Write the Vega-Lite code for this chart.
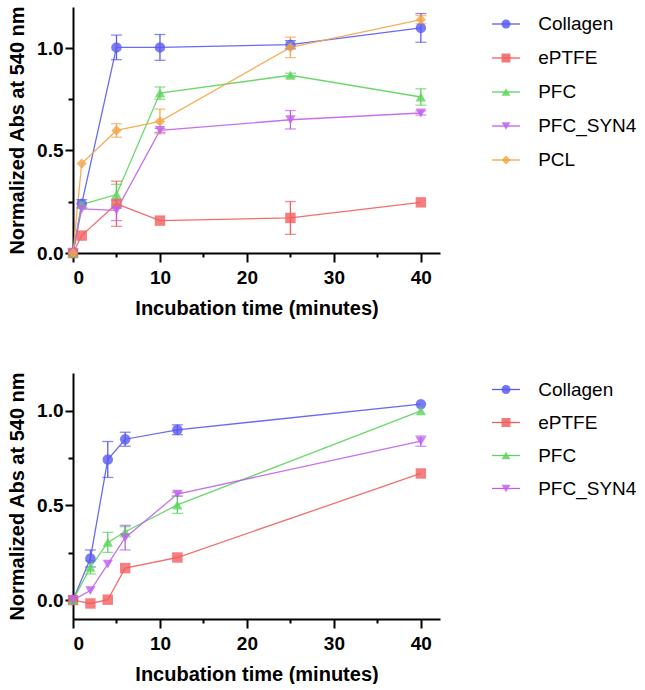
{
  "$schema": "https://vega.github.io/schema/vega-lite/v6.json",
  "padding": {"left": 7, "top": 5, "right": 0, "bottom": 0},
  "background": "white",
  "spacing": 53,
  "config": {
    "font": "Liberation Sans",
    "view": {"stroke": null},
    "axis": {"domainColor": "black", "domainWidth": 2, "tickColor": "black", "tickWidth": 2, "grid": false, "labelFont": "Liberation Sans", "labelFontWeight": "bold", "labelFontSize": 19, "labelColor": "black", "titleFont": "Liberation Sans", "titleFontWeight": "bold", "titleFontSize": 20, "titleColor": "black"}
  },
  "datasets": {
    "top": [
      {"series": "Collagen", "t": 0, "y": 0, "err": 0},
      {"series": "Collagen", "t": 1, "y": 0.24, "err": 0.02},
      {"series": "Collagen", "t": 5, "y": 1.003, "err": 0.06},
      {"series": "Collagen", "t": 10, "y": 1.003, "err": 0.063},
      {"series": "Collagen", "t": 25, "y": 1.016, "err": 0.02},
      {"series": "Collagen", "t": 40, "y": 1.098, "err": 0.07},
      {"series": "ePTFE", "t": 0, "y": 0, "err": 0},
      {"series": "ePTFE", "t": 1, "y": 0.085, "err": 0},
      {"series": "ePTFE", "t": 5, "y": 0.24, "err": 0.11},
      {"series": "ePTFE", "t": 10, "y": 0.158, "err": 0},
      {"series": "ePTFE", "t": 25, "y": 0.171, "err": 0.08},
      {"series": "ePTFE", "t": 40, "y": 0.247, "err": 0},
      {"series": "PFC", "t": 0, "y": 0, "err": 0},
      {"series": "PFC", "t": 1, "y": 0.236, "err": 0},
      {"series": "PFC", "t": 5, "y": 0.285, "err": 0.05},
      {"series": "PFC", "t": 10, "y": 0.78, "err": 0.03},
      {"series": "PFC", "t": 25, "y": 0.867, "err": 0.01},
      {"series": "PFC", "t": 40, "y": 0.761, "err": 0.04},
      {"series": "PFC_SYN4", "t": 0, "y": 0, "err": 0},
      {"series": "PFC_SYN4", "t": 1, "y": 0.215, "err": 0},
      {"series": "PFC_SYN4", "t": 5, "y": 0.208, "err": 0.05},
      {"series": "PFC_SYN4", "t": 10, "y": 0.598, "err": 0.01},
      {"series": "PFC_SYN4", "t": 25, "y": 0.65, "err": 0.045},
      {"series": "PFC_SYN4", "t": 40, "y": 0.683, "err": 0.01},
      {"series": "PCL", "t": 0, "y": 0, "err": 0},
      {"series": "PCL", "t": 1, "y": 0.436, "err": 0},
      {"series": "PCL", "t": 5, "y": 0.598, "err": 0.033},
      {"series": "PCL", "t": 10, "y": 0.642, "err": 0.06},
      {"series": "PCL", "t": 25, "y": 1.003, "err": 0.05},
      {"series": "PCL", "t": 40, "y": 1.138, "err": 0.02}
    ],
    "bottom": [
      {"series": "Collagen", "t": 0, "y": 0, "err": 0},
      {"series": "Collagen", "t": 2, "y": 0.22, "err": 0.045},
      {"series": "Collagen", "t": 4, "y": 0.743, "err": 0.095},
      {"series": "Collagen", "t": 6, "y": 0.85, "err": 0.037},
      {"series": "Collagen", "t": 12, "y": 0.9, "err": 0.026},
      {"series": "Collagen", "t": 40, "y": 1.035, "err": 0},
      {"series": "ePTFE", "t": 0, "y": 0, "err": 0},
      {"series": "ePTFE", "t": 2, "y": -0.018, "err": 0},
      {"series": "ePTFE", "t": 4, "y": 0.002, "err": 0},
      {"series": "ePTFE", "t": 6, "y": 0.169, "err": 0},
      {"series": "ePTFE", "t": 12, "y": 0.225, "err": 0},
      {"series": "ePTFE", "t": 40, "y": 0.669, "err": 0},
      {"series": "PFC", "t": 0, "y": 0, "err": 0},
      {"series": "PFC", "t": 2, "y": 0.173, "err": 0.035},
      {"series": "PFC", "t": 4, "y": 0.305, "err": 0.053},
      {"series": "PFC", "t": 6, "y": 0.361, "err": 0.027},
      {"series": "PFC", "t": 12, "y": 0.503, "err": 0.045},
      {"series": "PFC", "t": 40, "y": 1.0, "err": 0},
      {"series": "PFC_SYN4", "t": 0, "y": 0, "err": 0},
      {"series": "PFC_SYN4", "t": 2, "y": 0.05, "err": 0},
      {"series": "PFC_SYN4", "t": 4, "y": 0.19, "err": 0},
      {"series": "PFC_SYN4", "t": 6, "y": 0.33, "err": 0.065},
      {"series": "PFC_SYN4", "t": 12, "y": 0.56, "err": 0.01},
      {"series": "PFC_SYN4", "t": 40, "y": 0.84, "err": 0.027}
    ]
  },
  "vconcat": [
    {
      "spacing": 51,
      "hconcat": [
        {
          "width": 367, "height": 246,
          "data": {"name": "top"},
          "encoding": {
            "x": {"field": "t", "type": "quantitative", "title": "Incubation time (minutes)",
              "scale": {"domain": [0, 42.2], "nice": false, "zero": false},
              "axis": {"values": [0, 5, 10, 15, 20, 25, 30, 35, 40], "labelExpr": "datum.value % 10 === 0 ? datum.label : ''", "tickSize": {"condition": {"test": "datum.value % 10 !== 0", "value": 4}, "value": 9}, "labelPadding": 6, "titlePadding": 11}},
            "y": {"field": "y", "type": "quantitative", "title": "Normalized Abs at 540 nm",
              "scale": {"domain": [0, 1.2], "nice": false, "zero": false},
              "axis": {"values": [0, 0.25, 0.5, 0.75, 1.0], "labelExpr": "datum.value === 0 || datum.value === 0.5 || datum.value === 1 ? format(datum.value, '.1f') : ''", "tickSize": {"condition": {"test": "datum.value === 0.25 || datum.value === 0.75", "value": 5}, "value": 8}, "labelPadding": 2, "titlePadding": 9}},
            "color": {"field": "series", "type": "nominal", "legend": null,
              "scale": {"domain": ["Collagen", "ePTFE", "PFC", "PFC_SYN4", "PCL"], "range": ["#5a5af2", "#f25e5e", "#5cd45c", "#c060ee", "#f4a548"]}}
          },
          "layer": [
            {"mark": {"type": "line", "strokeWidth": 1.3, "opacity": 0.9}},
            {"transform": [{"filter": "datum.err > 0"}],
             "mark": {"type": "errorbar", "thickness": 1.3, "ticks": {"size": 11, "thickness": 1.3}},
             "encoding": {"yError": {"field": "err"}}},
            {"mark": {"type": "point", "filled": true, "opacity": 0.8},
             "encoding": {
               "shape": {"field": "series", "type": "nominal", "legend": null,
                 "scale": {"domain": ["Collagen", "ePTFE", "PFC", "PFC_SYN4", "PCL"], "range": ["circle", "square", "triangle-up", "triangle-down", "diamond"]}},
               "size": {"field": "series", "type": "nominal", "legend": null,
                 "scale": {"domain": ["Collagen", "ePTFE", "PFC", "PFC_SYN4", "PCL"], "range": [110, 105, 95, 95, 60]}}
             }}
          ]
        },
        {
          "width": 140, "height": {"step": 34},
          "data": {"name": "top"},
          "transform": [{"aggregate": [{"op": "count", "as": "n"}], "groupby": ["series"]}],
          "encoding": {
            "y": {"field": "series", "type": "nominal", "axis": null,
              "scale": {"type": "point", "padding": 0.5, "domain": ["Collagen", "ePTFE", "PFC", "PFC_SYN4", "PCL"]}},
            "color": {"field": "series", "type": "nominal", "legend": null,
              "scale": {"domain": ["Collagen", "ePTFE", "PFC", "PFC_SYN4", "PCL"], "range": ["#5a5af2", "#f25e5e", "#5cd45c", "#c060ee", "#f4a548"]}}
          },
          "layer": [
            {"mark": {"type": "rule", "strokeWidth": 1.3},
             "encoding": {"x": {"datum": 0, "type": "quantitative", "scale": {"domain": [0, 10], "nice": false}, "axis": null}, "x2": {"datum": 2}}},
            {"mark": {"type": "point", "filled": true, "opacity": 0.85},
             "encoding": {"x": {"datum": 1, "type": "quantitative"},
               "shape": {"field": "series", "type": "nominal", "legend": null,
                 "scale": {"domain": ["Collagen", "ePTFE", "PFC", "PFC_SYN4", "PCL"], "range": ["circle", "square", "triangle-up", "triangle-down", "diamond"]}},
               "size": {"value": 80}}},
            {"mark": {"type": "text", "align": "left", "baseline": "middle", "font": "Liberation Sans", "fontSize": 19},
             "encoding": {"x": {"datum": 3.3, "type": "quantitative"}, "text": {"field": "series"}, "color": {"value": "black"}}}
          ]
        }
      ]
    },
    {
      "spacing": 51,
      "hconcat": [
        {
          "width": 367, "height": 246,
          "data": {"name": "bottom"},
          "encoding": {
            "x": {"field": "t", "type": "quantitative", "title": "Incubation time (minutes)",
              "scale": {"domain": [0, 42.2], "nice": false, "zero": false},
              "axis": {"values": [0, 5, 10, 15, 20, 25, 30, 35, 40], "labelExpr": "datum.value % 10 === 0 ? datum.label : ''", "tickSize": {"condition": {"test": "datum.value % 10 !== 0", "value": 4}, "value": 9}, "labelPadding": 6, "titlePadding": 11}},
            "y": {"field": "y", "type": "quantitative", "title": "Normalized Abs at 540 nm",
              "scale": {"domain": [-0.1, 1.2], "nice": false, "zero": false},
              "axis": {"values": [0, 0.25, 0.5, 0.75, 1.0], "labelExpr": "datum.value === 0 || datum.value === 0.5 || datum.value === 1 ? format(datum.value, '.1f') : ''", "tickSize": {"condition": {"test": "datum.value === 0.25 || datum.value === 0.75", "value": 5}, "value": 8}, "labelPadding": 2, "titlePadding": 9}},
            "color": {"field": "series", "type": "nominal", "legend": null,
              "scale": {"domain": ["Collagen", "ePTFE", "PFC", "PFC_SYN4"], "range": ["#5a5af2", "#f25e5e", "#5cd45c", "#c060ee"]}}
          },
          "layer": [
            {"mark": {"type": "line", "strokeWidth": 1.3, "opacity": 0.9}},
            {"transform": [{"filter": "datum.err > 0"}],
             "mark": {"type": "errorbar", "thickness": 1.3, "ticks": {"size": 11, "thickness": 1.3}},
             "encoding": {"yError": {"field": "err"}}},
            {"mark": {"type": "point", "filled": true, "opacity": 0.8},
             "encoding": {
               "shape": {"field": "series", "type": "nominal", "legend": null,
                 "scale": {"domain": ["Collagen", "ePTFE", "PFC", "PFC_SYN4"], "range": ["circle", "square", "triangle-up", "triangle-down"]}},
               "size": {"field": "series", "type": "nominal", "legend": null,
                 "scale": {"domain": ["Collagen", "ePTFE", "PFC", "PFC_SYN4"], "range": [110, 105, 95, 95]}}
             }}
          ]
        },
        {
          "width": 140, "height": {"step": 33},
          "data": {"name": "bottom"},
          "transform": [{"aggregate": [{"op": "count", "as": "n"}], "groupby": ["series"]}],
          "encoding": {
            "y": {"field": "series", "type": "nominal", "axis": null,
              "scale": {"type": "point", "padding": 0.5, "domain": ["Collagen", "ePTFE", "PFC", "PFC_SYN4"]}},
            "color": {"field": "series", "type": "nominal", "legend": null,
              "scale": {"domain": ["Collagen", "ePTFE", "PFC", "PFC_SYN4"], "range": ["#5a5af2", "#f25e5e", "#5cd45c", "#c060ee"]}}
          },
          "layer": [
            {"mark": {"type": "rule", "strokeWidth": 1.3},
             "encoding": {"x": {"datum": 0, "type": "quantitative", "scale": {"domain": [0, 10], "nice": false}, "axis": null}, "x2": {"datum": 2}}},
            {"mark": {"type": "point", "filled": true, "opacity": 0.85},
             "encoding": {"x": {"datum": 1, "type": "quantitative"},
               "shape": {"field": "series", "type": "nominal", "legend": null,
                 "scale": {"domain": ["Collagen", "ePTFE", "PFC", "PFC_SYN4"], "range": ["circle", "square", "triangle-up", "triangle-down"]}},
               "size": {"value": 80}}},
            {"mark": {"type": "text", "align": "left", "baseline": "middle", "font": "Liberation Sans", "fontSize": 19},
             "encoding": {"x": {"datum": 3.3, "type": "quantitative"}, "text": {"field": "series"}, "color": {"value": "black"}}}
          ]
        }
      ]
    }
  ]
}
